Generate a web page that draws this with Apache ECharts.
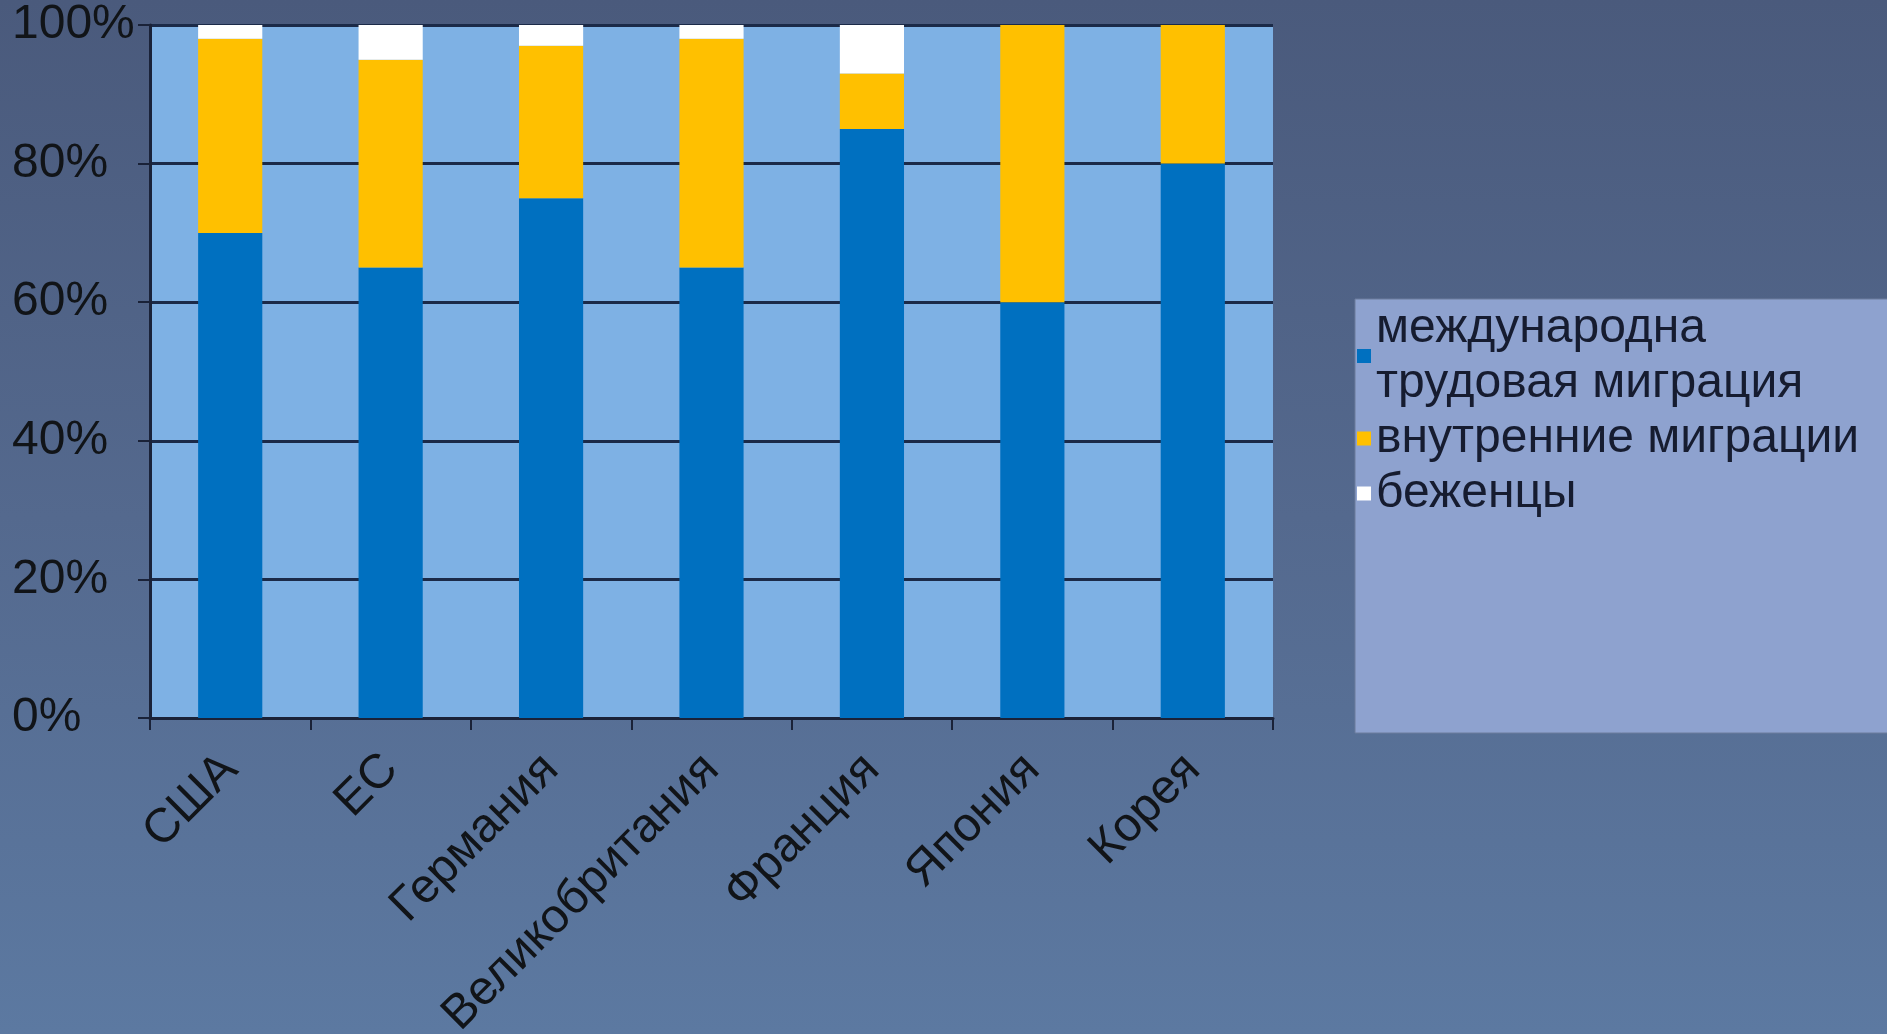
<!DOCTYPE html>
<html><head><meta charset="utf-8">
<script src="https://cdn.jsdelivr.net/npm/echarts@6/dist/echarts.min.js"></script>
<style>
html,body{margin:0;padding:0;width:1887px;height:1034px;overflow:hidden;
background:linear-gradient(180deg,#4a5a7c 0%,#54698e 50%,#5c79a1 100%);}
#c{width:1887px;height:1034px}
</style></head>
<body><div id="c"></div>
<script>
const categories = ['США','ЕС','Германия','Великобритания','Франция','Япония','Корея'];
const seriesNames = ['международна\nтрудовая миграция','внутренние миграции','беженцы'];
const labour   = [70, 65, 75, 65, 85, 60, 80];
const internal = [28, 30, 22, 33,  8, 40, 20];
const refugees = [ 2,  5,  3,  2,  7,  0,  0];
const seriesColors = ['#0070C0','#FFC000','#FFFFFF'];
const yMin = 0, yMax = 100, yStep = 20;

const FONT = '"Liberation Sans", Arial, sans-serif';
const chart = echarts.init(document.getElementById('c'), null, {renderer:'canvas'});
const values = [labour, internal, refugees];
chart.setOption({
  backgroundColor: 'transparent',
  animation: false,
  grid: {left:150, right:614, top:25, bottom:316, show:true, backgroundColor:'#7eb1e4', borderWidth:0,
         containLabel:false, outerBoundsMode:'none'},
  legend: {
    orient:'vertical', left:1355, top:299, itemGap:0, itemWidth:14, itemHeight:14, icon:'rect',
    padding:[2,400,212,2], backgroundColor:'#8ea2cf', borderColor:'#6d7c9c', borderWidth:1,
    textStyle:{fontSize:48, lineHeight:55, color:'#161c30', fontFamily:FONT},
    data: seriesNames
  },
  xAxis: {
    type:'category', data:categories, boundaryGap:true,
    axisLine:{show:true, lineStyle:{color:'#1a2238', width:3}},
    axisTick:{show:true, length:12, lineStyle:{color:'#1a2238', width:2}},
    axisLabel:{rotate:45, interval:0, margin:44, fontSize:48, color:'#111418', fontFamily:FONT},
    splitLine:{show:false}
  },
  yAxis: {
    type:'value', min:yMin, max:yMax, interval:yStep,
    axisLine:{show:true, lineStyle:{color:'#1a2238', width:3}},
    axisTick:{show:true, length:12, lineStyle:{color:'#1a2238', width:2}},
    axisLabel:{formatter:'{value}%', align:'left', margin:138, fontSize:48, color:'#111418', fontFamily:FONT},
    splitLine:{show:true, lineStyle:{color:'#1b2a48', width:3}}
  },
  series: seriesNames.map((n,i)=>({
    name:n, type:'bar', stack:'total', barWidth:'40%', data:values[i],
    itemStyle:{color:seriesColors[i]}
  }))
});
</script>
</body></html>
